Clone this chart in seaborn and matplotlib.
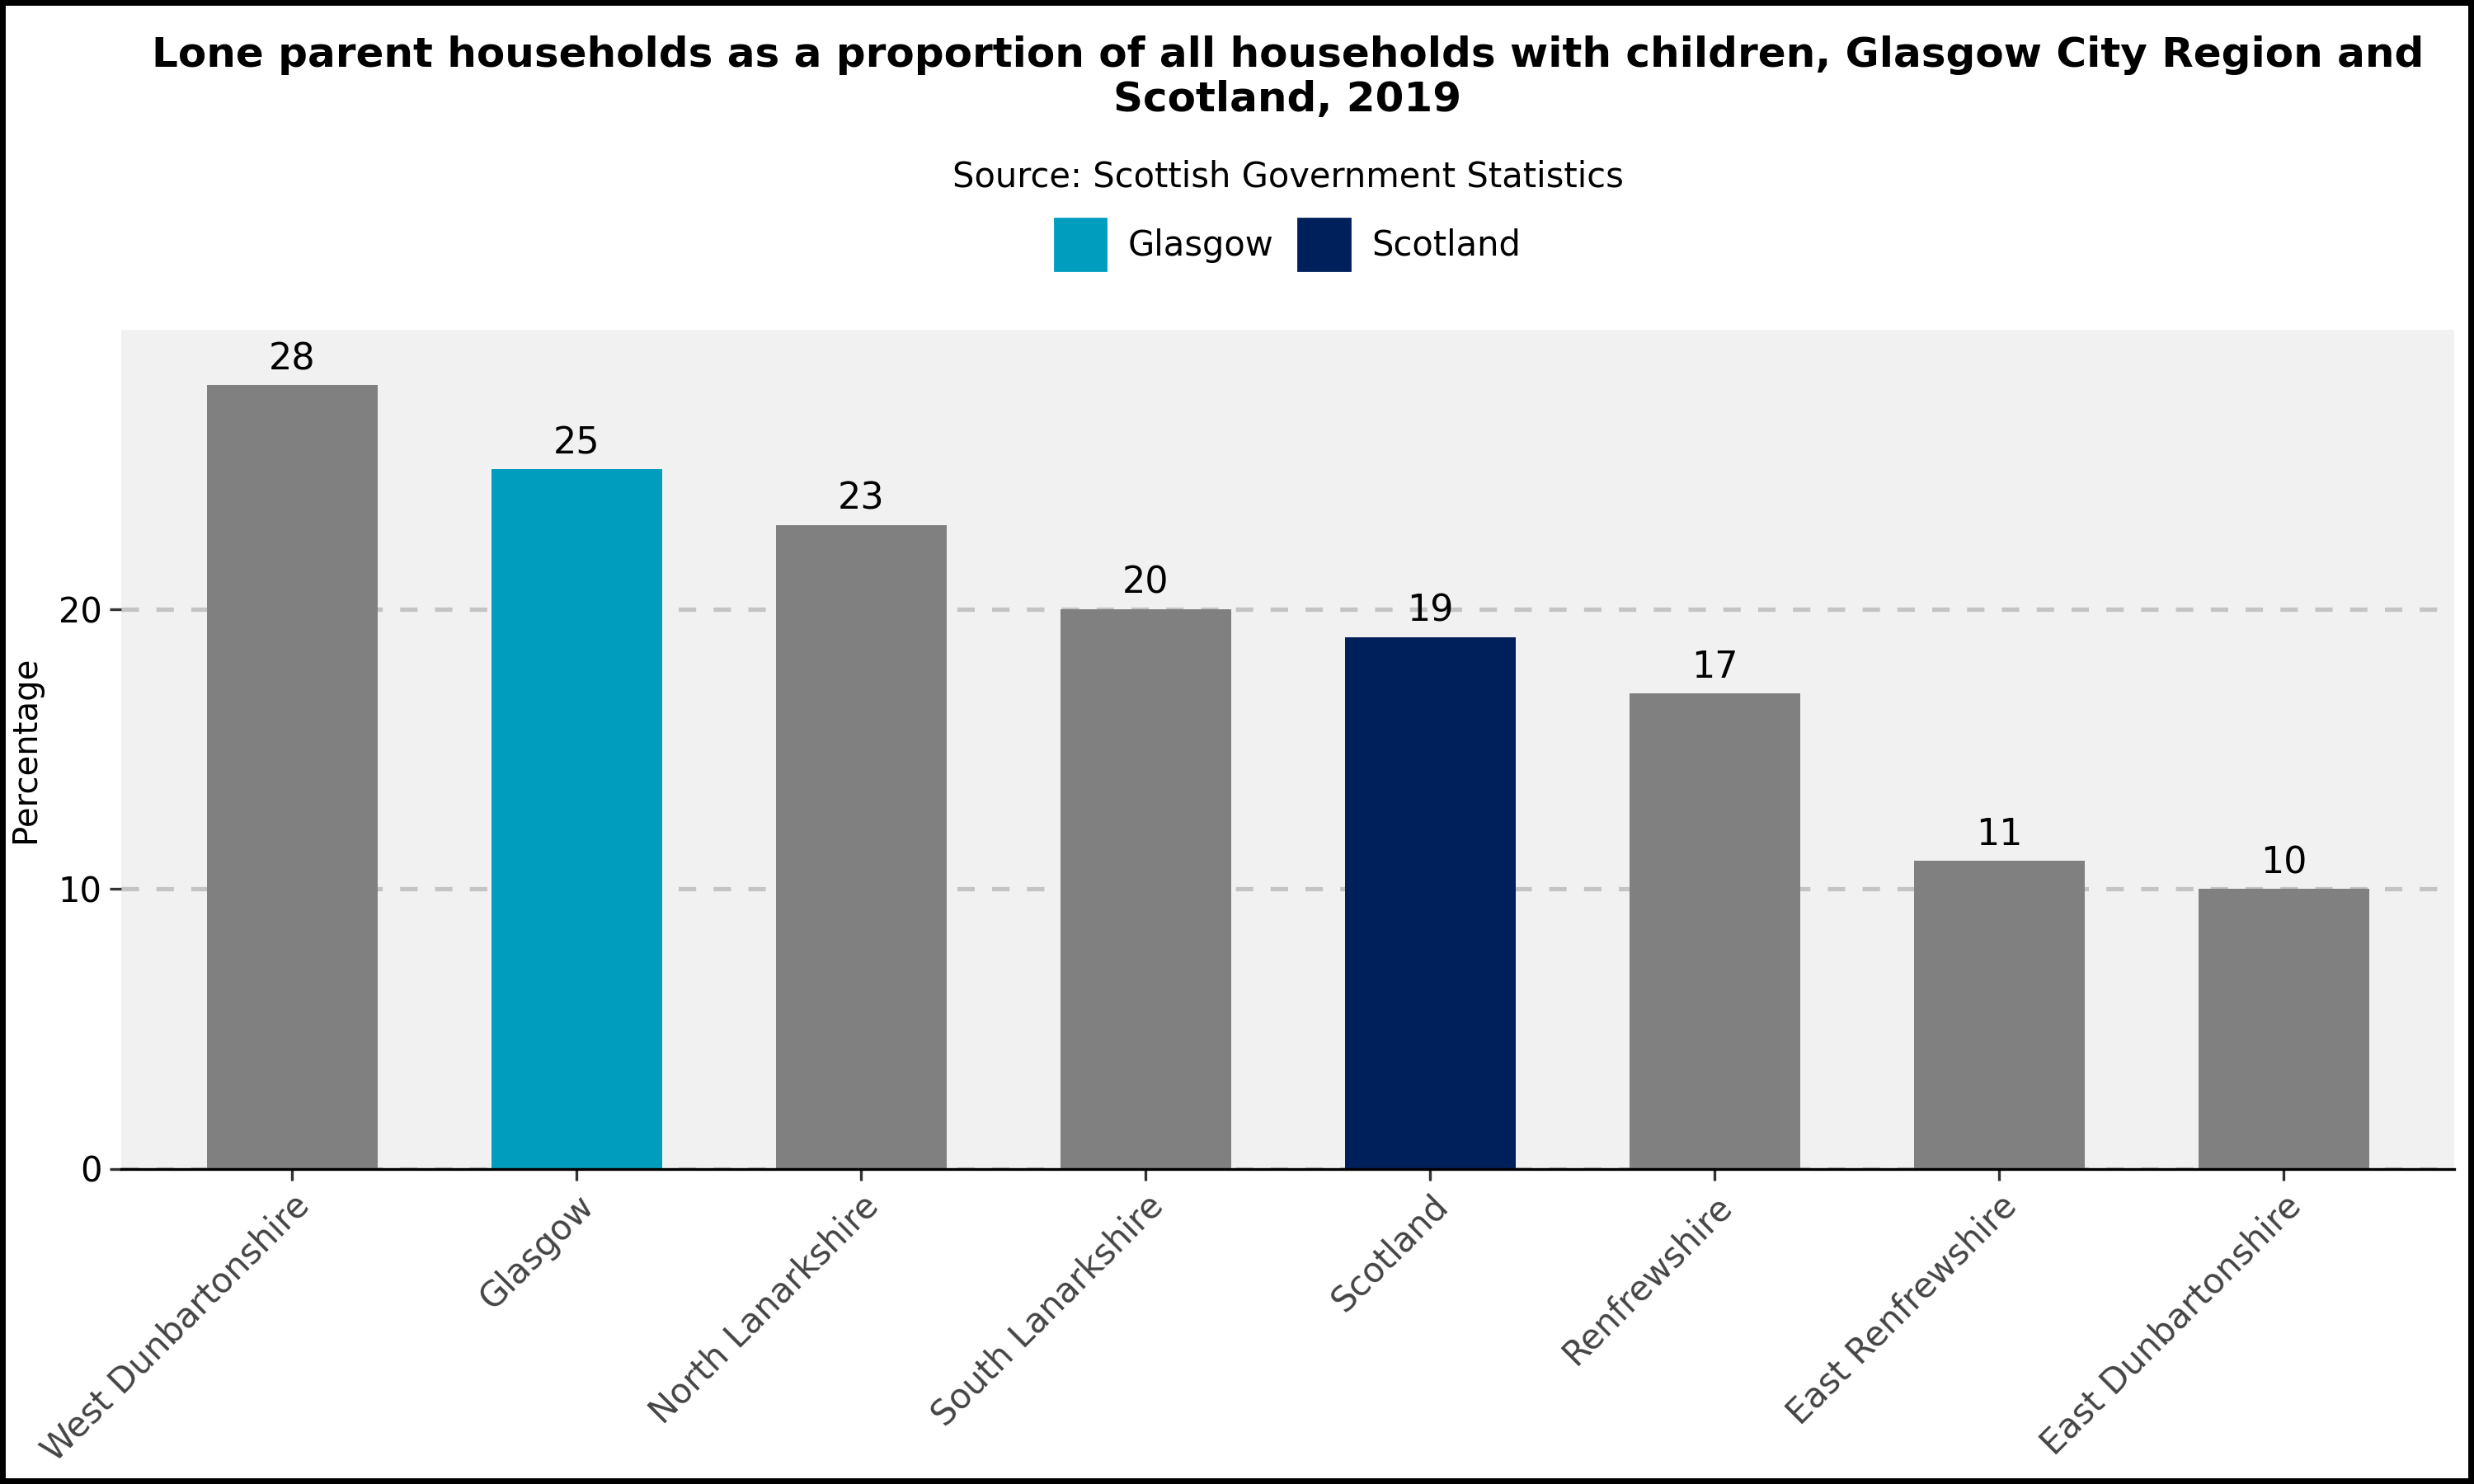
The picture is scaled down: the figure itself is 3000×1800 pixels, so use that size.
import matplotlib
matplotlib.use("Agg")
import matplotlib.pyplot as plt
import matplotlib.patches as mpatches
import pandas as pd
import seaborn as sns

# Dados
areas = ["West Dunbartonshire", "Glasgow", "North Lanarkshire", "South Lanarkshire",
         "Scotland", "Renfrewshire", "East Renfrewshire", "East Dunbartonshire"]
percentagens = [28, 25, 23, 20, 19, 17, 11, 10]
cores = {"Glasgow": "#009dbe", "Scotland": "#00205b"}
cor_outros = "#808080"

df = pd.DataFrame({"Area": areas, "Percentage": percentagens})
paleta = {a: cores.get(a, cor_outros) for a in areas}

sns.set_theme(style="white")
plt.rcParams["font.family"] = ["DejaVu Sans"]
plt.rcParams["text.color"] = "black"

fig = plt.figure(figsize=(15, 9), dpi=200)
ax = fig.add_axes([0.049, 0.2125, 0.943, 0.5655])
ax.set_facecolor("#f1f1f1")

sns.barplot(data=df, x="Area", y="Percentage", hue="Area", palette=paleta,
            width=0.6, legend=False, ax=ax, saturation=1, linewidth=0)

for barra, valor in zip(ax.patches, percentagens):
    ax.text(barra.get_x() + barra.get_width() / 2, valor + 0.3, f"{valor}",
            ha="center", va="bottom", fontsize=16, color="black")

ax.set_ylim(0, 30)
ax.set_xlim(-0.6, 7.6)
ax.set_yticks([0, 10, 20])
ax.yaxis.grid(True, linestyle=(0, (4, 4)), color="#c4c4c4", linewidth=1.9)
ax.set_axisbelow(True)
for lado in ["top", "right", "left"]:
    ax.spines[lado].set_visible(False)
ax.spines["bottom"].set_color("black")
ax.spines["bottom"].set_linewidth(1.2)
ax.tick_params(axis="both", which="both", length=5, width=1.2, color="#333333",
               left=True, bottom=True)
ax.tick_params(axis="y", labelsize=15, labelcolor="black")
ax.tick_params(axis="x", labelsize=15, labelcolor="#444444")
plt.setp(ax.get_xticklabels(), rotation=45, ha="right", rotation_mode="anchor")
ax.set_xlabel("")
ax.set_ylabel("Percentage", fontsize=14.5, color="black")
ax.yaxis.set_label_coords(-0.034, 0.5)

# Título e subtítulo
cx = 0.049 + 0.943 / 2
fig.text(cx, 1 - 49 / 941, "Lone parent households as a proportion of all households with children, Glasgow City Region and\nScotland, 2019",
         ha="center", va="center", fontsize=18, fontweight="bold", linespacing=1.15)
fig.text(cx, 1 - 112 / 941, "Source: Scottish Government Statistics",
         ha="center", va="center", fontsize=15)

handles = [mpatches.Patch(color=cores["Glasgow"], label="Glasgow"),
           mpatches.Patch(color=cores["Scotland"], label="Scotland")]
fig.legend(handles=handles, loc="center", bbox_to_anchor=(cx, 1 - 155 / 941), ncol=2,
           frameon=False, fontsize=15, handlelength=1.5, handleheight=1.95,
           columnspacing=0.7, handletextpad=0.65)

fig.patches.append(mpatches.Rectangle((0, 0), 1, 1, transform=fig.transFigure,
                                      fill=False, edgecolor="black", linewidth=5))

fig.savefig("out.png", dpi=200)
